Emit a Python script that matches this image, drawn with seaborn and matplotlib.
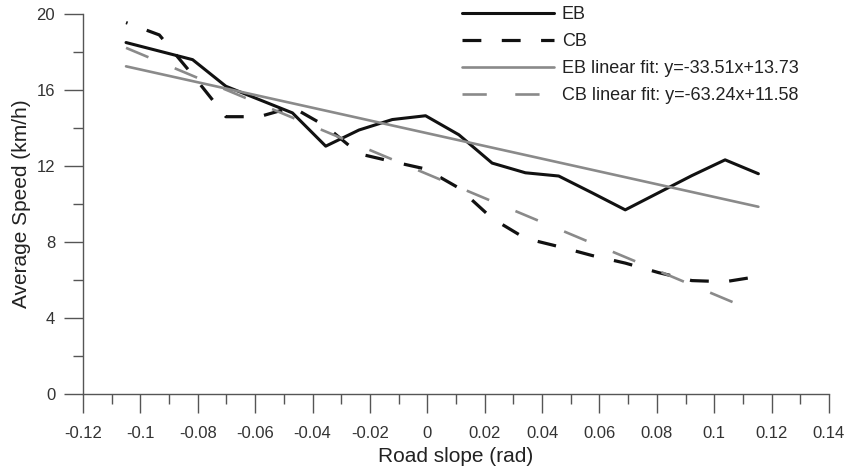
import numpy as np
import pandas as pd
import matplotlib
matplotlib.use("Agg")
import matplotlib.pyplot as plt
import seaborn as sns

# Road slope bins (rad) and average speeds (km/h)
slope = [-0.105, -0.0934, -0.0818, -0.0702, -0.0586, -0.047, -0.0354, -0.0238,
         -0.0122, -0.0006, 0.011, 0.0226, 0.0342, 0.0458, 0.0574, 0.069,
         0.0806, 0.0922, 0.1038, 0.1154]
eb_speed = [18.5, 18.05, 17.6, 16.2, 15.5, 14.8, 13.05, 13.9, 14.45, 14.65,
            13.65, 12.16, 11.65, 11.48, 10.6, 9.7, 10.6, 11.5, 12.33, 11.6]
cb_speed = [19.55, 18.9, 16.8, 14.6, 14.6, 15.1, 14.1, 12.65, 12.24, 11.85,
            10.85, 9.25, 8.2, 7.77, 7.3, 6.9, 6.4, 5.98, 5.92, 6.2]

# Linear fit coefficients (slope, intercept)
eb_fit = (-33.51, 13.73)
cb_fit = (-63.24, 11.58)

x_ticks = [-0.12, -0.1, -0.08, -0.06, -0.04, -0.02, 0, 0.02, 0.04, 0.06, 0.08, 0.1, 0.12, 0.14]
x_tick_labels = ["-0.12", "-0.1", "-0.08", "-0.06", "-0.04", "-0.02", "0",
                 "0.02", "0.04", "0.06", "0.08", "0.1", "0.12", "0.14"]
y_ticks = [0, 4, 8, 12, 16, 20]

sns.set_theme(style="ticks")
plt.rcParams["font.family"] = ["Liberation Sans", "DejaVu Sans"]

fig = plt.figure(figsize=(8.47, 4.69), dpi=100)
ax = fig.add_axes([0.098, 0.1593, 0.8807, 0.8108])

df = pd.DataFrame({"slope": slope, "EB": eb_speed, "CB": cb_speed})
xs = np.array([slope[0], slope[-1]])
fit_df = pd.DataFrame({
    "slope": xs,
    "EB_fit": eb_fit[0] * xs + eb_fit[1],
    "CB_fit": cb_fit[0] * xs + cb_fit[1],
})

black = "#111111"
grey = "#8a8a8a"

sns.lineplot(data=df, x="slope", y="EB", ax=ax, color=black, linewidth=2.2,
             label="EB")
sns.lineplot(data=df, x="slope", y="CB", ax=ax, color=black, linewidth=2.3,
             linestyle=(5.4, (5.9, 6.4)), label="CB")
sns.lineplot(data=fit_df, x="slope", y="EB_fit", ax=ax, color=grey, linewidth=1.9,
             label=f"EB linear fit: y={eb_fit[0]:.2f}x+{eb_fit[1]:.2f}")
sns.lineplot(data=fit_df, x="slope", y="CB_fit", ax=ax, color=grey, linewidth=1.9,
             linestyle=(0, (9.2, 10.8)),
             label=f"CB linear fit: y={cb_fit[0]:.2f}x+{cb_fit[1]:.2f}")

ax.set_xlim(-0.12, 0.14)
ax.set_ylim(0, 20)
ax.set_xticks(x_ticks)
ax.set_xticklabels(x_tick_labels)
ax.set_xticks(np.arange(-0.11, 0.14, 0.02), minor=True)
ax.set_yticks(y_ticks)
ax.set_yticks([2, 6, 10, 14, 18], minor=True)

axis_color = "#555555"
for side in ["top", "right"]:
    ax.spines[side].set_visible(False)
for side in ["left", "bottom"]:
    ax.spines[side].set_color(axis_color)
    ax.spines[side].set_linewidth(1.0)

ax.tick_params(axis="both", which="major", direction="out", length=14, width=1.0,
               color=axis_color, labelsize=12, labelcolor="#333333")
ax.tick_params(axis="x", which="major", pad=9)
ax.tick_params(axis="y", which="major", pad=6)
ax.tick_params(axis="both", which="minor", direction="out", length=7, width=1.0,
               color=axis_color)

ax.set_xlabel("Road slope (rad)", fontsize=15, color="#222222", labelpad=4)
ax.set_ylabel("Average Speed (km/h)", fontsize=15, color="#222222", labelpad=4)

leg = ax.legend(loc="upper left", bbox_to_anchor=(461.7 / 847, 1 - 6 / 469),
                bbox_transform=fig.transFigure, frameon=False, fontsize=13,
                borderpad=0, borderaxespad=0, handlelength=5.1,
                handletextpad=0.45, labelspacing=0.56)
for t in leg.get_texts():
    t.set_color("#222222")
# legend handle for CB starts on a full dash
leg.get_lines()[1].set_linestyle((0, (5.9, 6.4)))

fig.savefig("out.png", dpi=100)
